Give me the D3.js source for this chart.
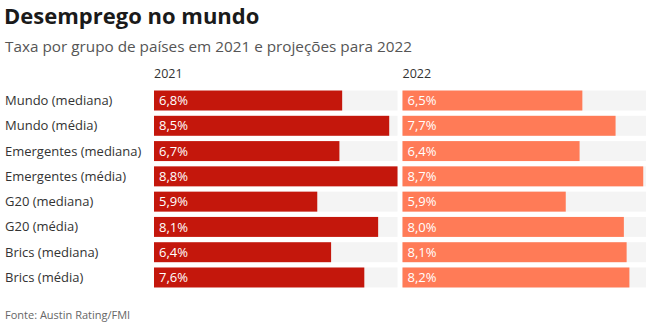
<!DOCTYPE html>
<html>
<head>
<meta charset="utf-8">
<script src="https://cdn.jsdelivr.net/npm/d3@7"></script>
<style>
  body { margin: 0; background: #fff; font-family: "Open Sans", sans-serif; }
</style>
</head>
<body>
<div id="chart"></div>
<script>
(function() {
  var width = 651, height = 327;

  var categories = ["Mundo (mediana)", "Mundo (média)", "Emergentes (mediana)", "Emergentes (média)",
    "G20 (mediana)", "G20 (média)", "Brics (mediana)", "Brics (média)"];
  var years = ["2021", "2022"];
  var values2021 = [6.8, 8.5, 6.7, 8.8, 5.9, 8.1, 6.4, 7.6];
  var values2022 = [6.5, 7.7, 6.4, 8.7, 5.9, 8.0, 8.1, 8.2];

  var colors = ["#c4170c", "#ff7b57"];

  var svg = d3.select("#chart")
    .append("svg")
    .attr("width", width)
    .attr("height", height);

  svg.append("text")
    .attr("x", 4).attr("y", 24)
    .attr("font-size", 22).attr("font-weight", 700)
    .attr("fill", "#1a1a1a")
    .text("Desemprego no mundo");

  svg.append("text")
    .attr("x", 5).attr("y", 52)
    .attr("font-size", 15.3)
    .attr("fill", "#555")
    .text("Taxa por grupo de países em 2021 e projeções para 2022");

  // rows
  var yScale = d3.scaleBand()
    .domain(categories)
    .range([88, 290])
    .paddingInner(0.21)
    .paddingOuter(0.1);

  // columns: one panel per year
  var colScale = d3.scaleBand()
    .domain(years)
    .range([154, 646])
    .paddingInner(0.02);

  var xScale = d3.scaleLinear()
    .domain([0, 8.8])
    .range([0, colScale.bandwidth()]);

  svg.selectAll(".cat-label")
    .data(categories)
    .enter().append("text")
      .attr("class", "cat-label")
      .attr("x", 5)
      .attr("y", function(d) { return yScale(d) + yScale.bandwidth() / 2; })
      .attr("dy", "0.35em")
      .attr("font-size", 13)
      .attr("fill", "#333")
      .text(function(d) { return d; });

  var series = [values2021, values2022];

  years.forEach(function(year, i) {
    var x0 = colScale(year);
    var g = svg.append("g").attr("transform", "translate(" + x0 + ",0)");

    g.append("text")
      .attr("x", 0).attr("y", 78)
      .attr("font-size", 12.5)
      .attr("fill", "#333")
      .text(year);

    var rows = g.selectAll(".row")
      .data(series[i])
      .enter().append("g")
        .attr("class", "row")
        .attr("transform", function(d, j) { return "translate(0," + yScale(categories[j]) + ")"; });

    rows.append("rect")
      .attr("width", colScale.bandwidth())
      .attr("height", yScale.bandwidth())
      .attr("fill", "#f4f4f4");

    rows.append("rect")
      .attr("width", function(d) { return xScale(d); })
      .attr("height", yScale.bandwidth())
      .attr("fill", colors[i]);

    rows.append("text")
      .attr("x", 5)
      .attr("y", yScale.bandwidth() / 2)
      .attr("dy", "0.36em")
      .attr("font-size", 13)
      .attr("fill", "#fff")
      .text(function(d) { return d.toFixed(1).replace(".", ",") + "%"; });
  });

  svg.append("text")
    .attr("x", 5).attr("y", 319)
    .attr("font-size", 11)
    .attr("fill", "#666")
    .text("Fonte: Austin Rating/FMI");
})();
</script>
</body>
</html>
